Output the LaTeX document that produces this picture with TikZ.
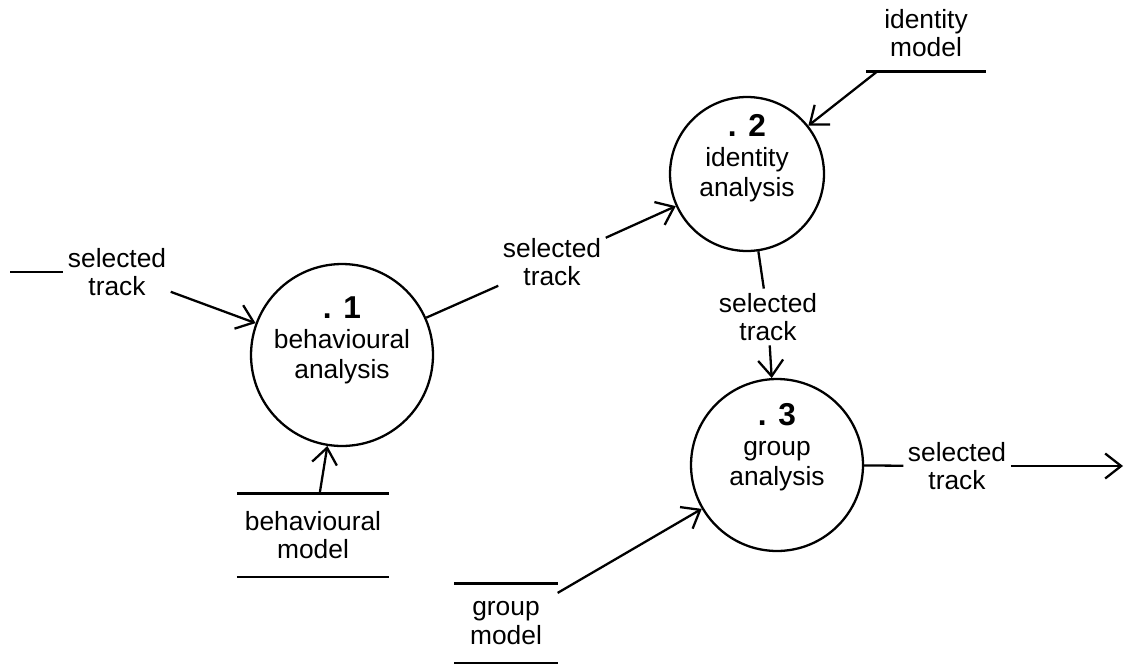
\documentclass[tikz,border=0pt]{standalone}
\usepackage{fontspec}
\setmainfont{Liberation Sans}
\usetikzlibrary{arrows.meta}

\tikzset{
  proc/.style={draw, circle, inner sep=0pt},
  proctext/.style={align=center, inner sep=0pt, font=\fontsize{15}{17}\selectfont},
  flowtext/.style={align=center, inner sep=2pt},
  store/.style={align=center, inner sep=0pt,
    append after command={(\tikzlastnode.north west) edge[line width=1.3pt] (\tikzlastnode.north east)
                          (\tikzlastnode.south west) edge[line width=1.3pt] (\tikzlastnode.south east)}},
}

\begin{document}
\begin{tikzpicture}[x=0.02cm, y=-0.02cm, line width=1.3pt,
    >={Straight Barb[length=3.2mm,width=5mm]},
    every node/.style={font=\fontsize{15}{16}\selectfont}]
\useasboundingbox (0,0) rectangle (1125,666);

% Processes
\node[proc, minimum size=3.64cm] (c1) at (342,355) {};
\node[proc, minimum size=3.08cm] (c2) at (747,174) {};
\node[proc, minimum size=3.44cm] (c3) at (777,465) {};

\node[proctext] (c1t) at ([yshift=0.3cm]c1) {{\bfseries\fontsize{18}{18}\selectfont . 1}\\behavioural\\analysis};
\node[proctext] (c2t) at ([yshift=0.32cm]c2) {{\bfseries\fontsize{18}{18}\selectfont . 2}\\identity\\analysis};
\node[proctext] (c3t) at ([yshift=0.36cm]c3) {{\bfseries\fontsize{18}{18}\selectfont . 3}\\group\\analysis};

% Data stores
\node[store, minimum width=3cm, minimum height=1.62cm] (bm) at (313,535) {behavioural\\model};
\node[store, minimum width=2.02cm, minimum height=1.54cm] (gm) at (506,623) {group\\model};
\node[store, minimum width=2.34cm, minimum height=1.5cm] (im) at (926,33) {identity\\model};

% Flow labels
\node[flowtext] (tin) at (117,272) {selected\\track};
\node[flowtext] (t12) at (552,262) {selected\\track};
\node[flowtext] (t23) at (768,317) {selected\\track};
\node[flowtext] (tout) at (957,466) {selected\\track};

\coordinate (src) at (10,272);
\coordinate (out) at (1123,466);

% Flows
\draw (src) -- (tin);
\draw[->] (tin) -- (c1);
\draw (c1) -- (t12);
\draw[->] (t12) -- (c2);
\draw (c2) -- (t23);
\draw[->] (t23) -- (c3);
\draw (c3) -- (tout);
\draw[->] (tout) -- (out);
\draw[->] (bm) -- (c1);
\draw[->] (gm) -- (c3);
\draw[->] (im) -- (c2);

\end{tikzpicture}
\end{document}
